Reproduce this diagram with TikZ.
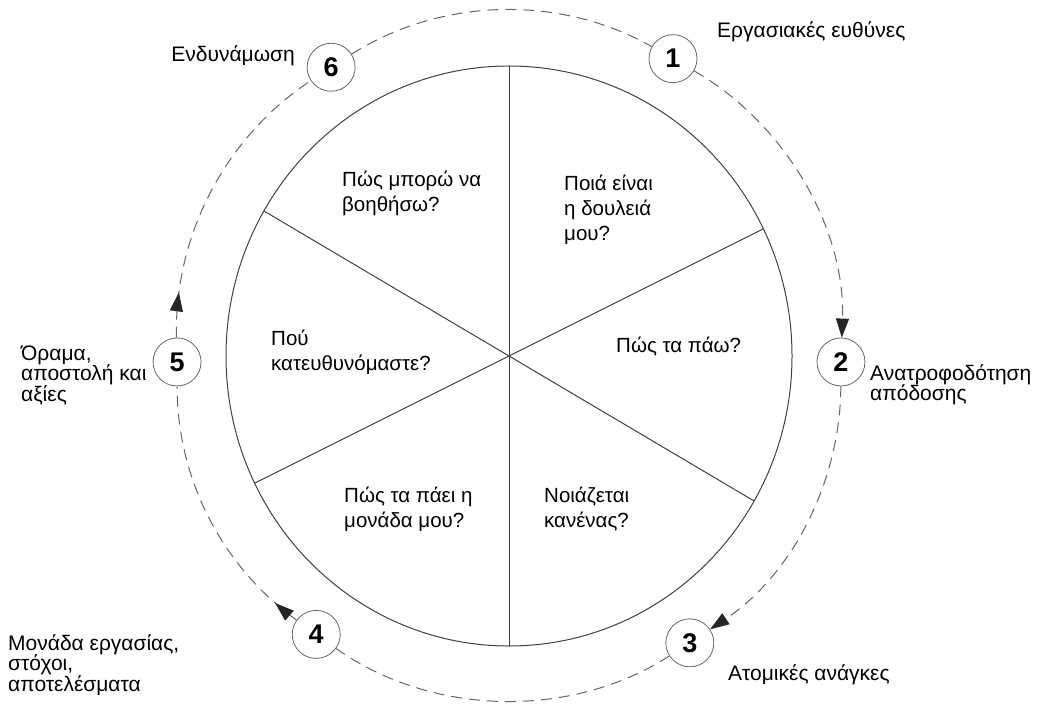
\documentclass[tikz,border=0pt]{standalone}
\usepackage{fontspec}
\setmainfont{Liberation Sans}
\usetikzlibrary{arrows.meta,decorations.markings}
\def\tip{Triangle[length=19pt,width=13pt,color=black!85]}

\begin{document}
\begin{tikzpicture}[x=1pt, y=1pt,
		wheel/.style={line width=1pt, color=black!75},
		ring/.style={dash pattern=on 11pt off 7pt, line width=1pt, color=black!60, looseness=0.9},
		num/.style={circle, draw=black!60, line width=0.8pt, fill=white, minimum size=48pt, inner sep=0pt, font=\fontsize{27}{27}\selectfont\bfseries},
		outer/.style={anchor=base west, align=left, inner sep=0pt, font=\fontsize{21}{20.5}\selectfont},
		inner/.style={anchor=base west, align=left, inner sep=0pt, font=\fontsize{20.5}{25}\selectfont},
		midtip/.style={postaction={decorate}, decoration={markings, mark=at position #1 with {\arrow{\tip}}}}]
		%%%%% START %%%%%
		
		\useasboundingbox (0, 0) rectangle (1043, 713);
		\coordinate (c) at (509, 357);
		
		% wheel
		\draw[wheel] (c) ellipse [x radius=283, y radius=290];
		\draw[wheel] ([shift={(90:283 and 290)}]c) -- ([shift={(270:283 and 290)}]c);
		\draw[wheel] ([shift={(26:283 and 290)}]c) -- ([shift={(206:283 and 290)}]c);
		\draw[wheel] ([shift={(150:283 and 290)}]c) -- ([shift={(330:283 and 290)}]c);
		
		% (multi-line nodes sit on their last line)
		\node[inner] (help) at (342, 501) {Πώς μπορώ να\\βοηθήσω?};
		\node[inner] (job) at (564, 472) {Ποιά είναι\\η δουλειά\\μου?};
		\node[inner] (where) at (271, 343) {Πού\\κατευθυνόμαστε?};
		\node[inner] (how) at (616, 361) {Πώς τα πάω?};
		\node[inner] (unit) at (344, 186) {Πώς τα πάει η\\μονάδα μου?};
		\node[inner] (care) at (544, 186) {Νοιάζεται\\κανένας?};
		
		% steps
		\node[num] (n1) at ([shift={(60.4:332 and 342)}]c) {1};
		\node[num] (n2) at ([shift={(-1:332 and 342)}]c) {2};
		\node[num] (n3) at ([shift={(-57:332 and 342)}]c) {3};
		\node[num] (n4) at ([shift={(234.5:332 and 342)}]c) {4};
		\node[num] (n5) at ([shift={(181:332 and 342)}]c) {5};
		\node[num] (n6) at ([shift={(122.4:332 and 342)}]c) {6};
		
		\draw[ring, -{\tip}] (n1) to[bend left=31] (n2);
		\draw[ring, -{\tip}] (n2) to[bend left=28] (n3);
		\draw[ring] (n3) to[bend left=34] (n4);
		\draw[ring, midtip=0.1] (n4) to[bend left=27] (n5);
		\draw[ring, midtip=0.15] (n5) to[bend left=29] (n6);
		\draw[ring] (n6) to[bend left=31] (n1);
		
		\node[outer] (l1) at (717, 675) {Εργασιακές ευθύνες};
		\node[outer] (l2) at (870, 312.5) {Ανατροφοδότηση\\απόδοσης};
		\node[outer] (l3) at (728, 33) {Ατομικές ανάγκες};
		\node[outer] (l4) at (8, 22) {Μονάδα εργασίας,\\στόχοι,\\αποτελέσματα};
		\node[outer] (l5) at (21, 312) {Όραμα,\\αποστολή και\\αξίες};
		\node[outer, anchor=base east] (l6) at (295, 651) {Ενδυνάμωση};
		
		%%%%% END %%%%%
\end{tikzpicture}
\end{document}
